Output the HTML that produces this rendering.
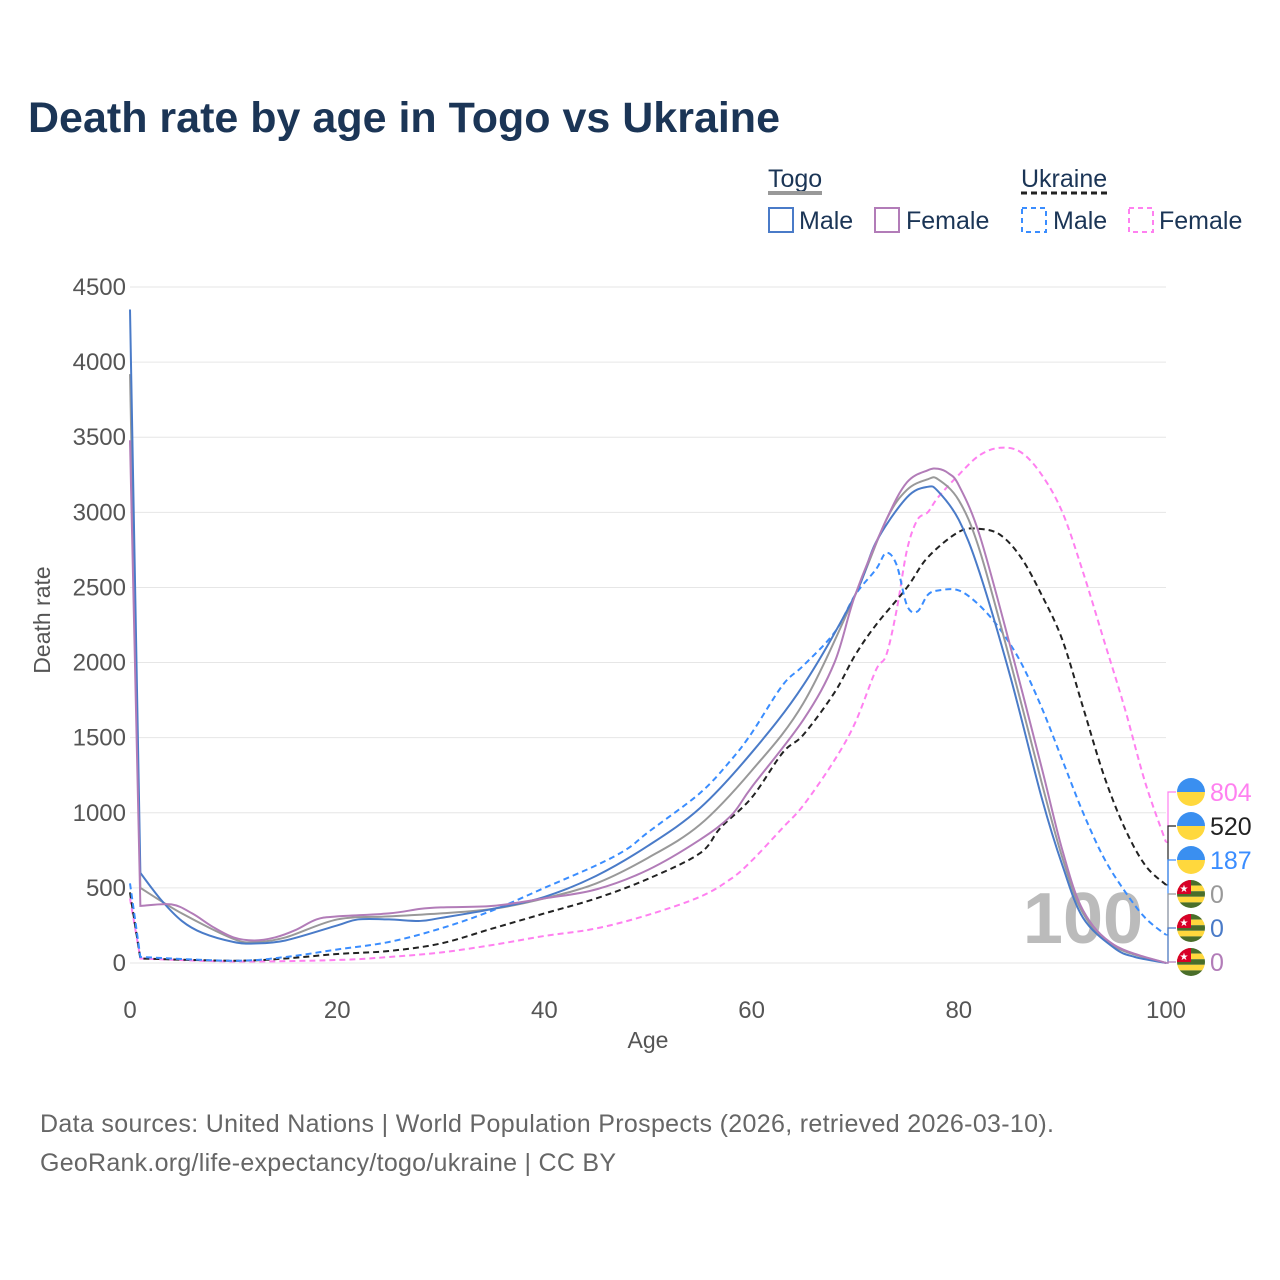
<!DOCTYPE html>
<html><head><meta charset="utf-8"><style>
html,body{margin:0;padding:0;background:#fff}
svg{display:block;font-family:"Liberation Sans",sans-serif}
</style></head><body>
<svg id="chart" width="1280" height="1280" viewBox="0 0 1280 1280">
<text x="28" y="132" font-size="43" font-weight="bold" fill="#1b3556" textLength="752">Death rate by age in Togo vs Ukraine</text>
<g font-size="25" fill="#1b3556">
 <text x="768" y="187">Togo</text>
 <line x1="768" x2="822" y1="193" y2="193" stroke="#999" stroke-width="4"/>
 <text x="1021" y="187">Ukraine</text>
 <line x1="1021" x2="1111" y1="193" y2="193" stroke="#222" stroke-width="3" stroke-dasharray="6,4"/>
 <rect x="769" y="208" width="24" height="24" fill="none" stroke="#4a7bc8" stroke-width="2"/>
 <text x="799" y="229">Male</text>
 <rect x="875" y="208" width="24" height="24" fill="none" stroke="#b27cb8" stroke-width="2"/>
 <text x="906" y="229">Female</text>
 <rect x="1022" y="208" width="24" height="24" fill="none" stroke="#3a8dff" stroke-width="2" stroke-dasharray="5,4"/>
 <text x="1053" y="229">Male</text>
 <rect x="1129" y="208" width="24" height="24" fill="none" stroke="#ff80f0" stroke-width="2" stroke-dasharray="5,4"/>
 <text x="1159" y="229">Female</text>
</g>
<g id="grid"></g>
<text x="1083" y="943" font-size="72" font-weight="bold" fill="#bbb" text-anchor="middle">100</text>
<g id="series"></g>
<g id="ends"></g>
<text x="648" y="1048" font-size="23" fill="#555" text-anchor="middle">Age</text>
<text transform="translate(50,620) rotate(-90)" font-size="23" fill="#555" text-anchor="middle">Death rate</text>
<text x="40" y="1132" font-size="25" fill="#666" textLength="1014">Data sources: United Nations | World Population Prospects (2026, retrieved 2026-03-10).</text>
<text x="40" y="1171" font-size="25" fill="#666" textLength="576">GeoRank.org/life-expectancy/togo/ukraine | CC BY</text>
</svg>
<script>
const yTicks=[0,500,1000,1500,2000,2500,3000,3500,4000,4500];
const xTicks=[0,20,40,60,80,100];
const togoMaleAges=[0,1,3,5,7,10,12,15,20,22,25,28,30,35,40,45,50,55,60,65,70,72,75,77,78,80,82,85,88,90,92,95,97,100];
const togoMale=[4350,600,420,280,200,140,130,150,250,290,290,280,300,360,440,580,780,1030,1400,1850,2450,2800,3100,3170,3140,2950,2600,1900,1100,650,300,100,40,0];
const togoTotalAges=[0,1,5,10,12,15,20,25,30,35,40,45,50,55,60,65,70,73,75,77,78,80,82,85,88,90,92,95,100];
const togoTotal=[3920,500,330,160,140,170,290,310,330,360,430,530,700,920,1280,1730,2450,2950,3150,3220,3220,3080,2750,2000,1200,700,330,110,0];
const togoFemaleAges=[0,1,4,6,8,10,12,14,16,18,20,25,28,30,35,40,45,50,55,58,60,65,68,70,73,75,77,78,79,80,82,85,88,90,92,95,100];
const togoFemale=[3480,380,390,330,240,170,150,170,220,290,310,330,360,370,380,430,490,620,820,980,1170,1620,2000,2450,2950,3200,3280,3290,3260,3180,2850,2100,1300,750,350,120,0];
const ukrTotalAges=[0,1,10,15,20,25,30,35,40,45,50,55,57,60,63,65,68,70,72,75,77,80,82,84,86,88,90,92,94,96,98,100];
const ukrTotal=[470,30,15,30,60,80,130,230,330,430,560,730,900,1100,1400,1520,1800,2050,2250,2500,2700,2870,2890,2850,2700,2450,2150,1700,1250,900,650,520];
const ukrMaleAges=[0,1,10,15,20,25,30,35,40,45,48,50,55,58,60,63,65,68,70,72,73,74,75,76,77,78,80,82,84,86,88,90,92,94,96,98,100];
const ukrMale=[530,40,15,40,90,140,230,350,500,650,760,870,1130,1350,1530,1850,1980,2200,2450,2620,2730,2650,2380,2340,2450,2480,2480,2380,2220,2000,1700,1350,1000,700,480,300,187];
const ukrFemaleAges=[0,1,10,20,25,30,35,40,45,50,55,58,60,63,65,68,70,72,73,74,75,76,77,78,80,82,84,86,88,90,92,94,96,98,100];
const ukrFemale=[430,30,10,20,40,70,120,180,230,320,440,560,680,900,1050,1350,1600,1950,2050,2350,2750,2950,3000,3100,3250,3380,3430,3400,3250,3000,2600,2150,1700,1200,804];

const NS='http://www.w3.org/2000/svg';
const X0=130,X1=1166,Y0=963,Y1=287;
const xs=a=>X0+(a/100)*(X1-X0);
const ys=v=>Y0-(v/4500)*(Y0-Y1);
function mk(t,at){const e=document.createElementNS(NS,t);for(const k in at)e.setAttribute(k,at[k]);return e;}
const grid=document.getElementById('grid');
yTicks.forEach(v=>{
 const l=mk('line',{x1:X0,x2:X1,y1:ys(v),y2:ys(v),stroke:'#e6e6e6','stroke-width':1});
 
 
 grid.appendChild(l);
 const t=mk('text',{x:126,y:ys(v)+8,'font-size':24,fill:'#555','text-anchor':'end'});
 t.textContent=v;
 
 
 grid.appendChild(t);
});
xTicks.forEach(v=>{
 const t=mk('text',{x:xs(v),y:1018,'font-size':24,fill:'#555','text-anchor':'middle'});
 t.textContent=v;
 
 
 grid.appendChild(t);
});
function pathD(ages,vals){
 const p=ages.map((a,i)=>[xs(a),ys(vals[i])]);
 let d='M'+p[0][0]+','+p[0][1]+' L'+p[1][0]+','+p[1][1];
 for(let i=1;i<p.length-1;i++){
  const p0=p[Math.max(i-1,1)],p1=p[i],p2=p[i+1],p3=p[Math.min(i+2,p.length-1)];
  const c1=[p1[0]+(p2[0]-p0[0])/6,p1[1]+(p2[1]-p0[1])/6];
  const c2=[p2[0]-(p3[0]-p1[0])/6,p2[1]-(p3[1]-p1[1])/6];
  d+=' C'+c1.join(',')+' '+c2.join(',')+' '+p2.join(',');
 }
 return d;
}
const ser=document.getElementById('series');
const defs=[
 ['ukraine-female-line',ukrFemaleAges,ukrFemale,'#ff80f0','6,4'],
 ['ukraine-total-line',ukrTotalAges,ukrTotal,'#222','6,4'],
 ['ukraine-male-line',ukrMaleAges,ukrMale,'#3a8dff','6,4'],
 ['togo-total-line',togoTotalAges,togoTotal,'#999',''],
 ['togo-male-line',togoMaleAges,togoMale,'#4a7bc8',''],
 ['togo-female-line',togoFemaleAges,togoFemale,'#b27cb8','']
];
defs.forEach(s=>{
 const e=mk('path',{d:pathD(s[1],s[2]),fill:'none',stroke:s[3],'stroke-width':2});
 if(s[4])e.setAttribute('stroke-dasharray',s[4]);
 
 
 ser.appendChild(e);
});
const ends=document.getElementById('ends');
const endItems=[
 ['ukraine-female-end',ukrFemale[ukrFemale.length-1],'#ff80f0','ua',792],
 ['ukraine-total-end',ukrTotal[ukrTotal.length-1],'#222','ua',826],
 ['ukraine-male-end',ukrMale[ukrMale.length-1],'#3a8dff','ua',860],
 ['togo-total-end',togoTotal[togoTotal.length-1],'#999','tg',894],
 ['togo-male-end',togoMale[togoMale.length-1],'#4a7bc8','tg',928],
 ['togo-female-end',togoFemale[togoFemale.length-1],'#b27cb8','tg',962]
];
let cid=0;
endItems.forEach(it=>{
 const [nm,v,col,fl,cy]=it;
 const g=mk('g',{});
 
 
 const yv=ys(v);
 g.appendChild(mk('path',{d:`M${X1},${yv} L${X1+2},${yv} L${X1+2},${cy} L${X1+10},${cy}`,fill:'none',stroke:col,'stroke-width':1.2}));
 const id='clip'+(cid++);
 const cp=mk('clipPath',{id:id});cp.appendChild(mk('circle',{cx:1191,cy:cy,r:14}));g.appendChild(cp);
 const fg=mk('g',{'clip-path':`url(#${id})`});
 if(fl==='ua'){
  fg.appendChild(mk('rect',{x:1177,y:cy-14,width:28,height:14,fill:'#3a8ff0'}));
  fg.appendChild(mk('rect',{x:1177,y:cy,width:28,height:14,fill:'#ffd83d'}));
 }else{
  for(let k=0;k<5;k++)fg.appendChild(mk('rect',{x:1177,y:cy-14+k*5.6,width:28,height:5.6,fill:k%2?'#ffd83d':'#4a6e2a'}));
  fg.appendChild(mk('rect',{x:1177,y:cy-14,width:14,height:14,fill:'#d80027'}));
  const st=mk('text',{x:1184,y:cy-2,'font-size':10,fill:'#fff','text-anchor':'middle'});st.textContent='★';fg.appendChild(st);
 }
 g.appendChild(fg);
 const t=mk('text',{x:1210,y:cy+9,'font-size':25,fill:col});
 t.textContent=v;
 g.appendChild(t);
 ends.appendChild(g);
});
</script>
</body></html>
